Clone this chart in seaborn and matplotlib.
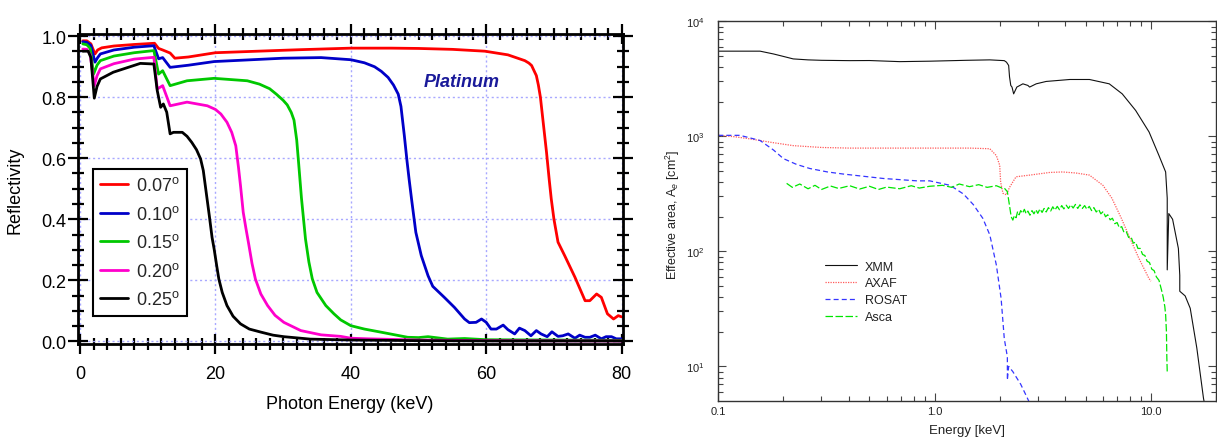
import matplotlib
matplotlib.use("Agg")
import matplotlib.pyplot as plt
import seaborn as sns
from matplotlib.ticker import (MultipleLocator, FormatStrFormatter, FixedLocator,
                               FixedFormatter, LogLocator, NullFormatter)

# ---------------- Pt reflectivity vs photon energy (grazing angles) ----------------
angles = ["0.07", "0.10", "0.15", "0.20", "0.25"]
angle_colors = ["#ff0000", "#0000c8", "#00c800", "#ff00cc", "#000000"]

e_007 = [0.4, 1.0, 1.6, 2.2, 2.6, 3.2, 5, 8, 11, 11.6, 12.2, 13.3, 14.0, 16, 20, 30,
         32.6, 40, 46, 50, 55, 59.8, 63.2, 65.7, 66.3, 66.7, 67.1, 67.4, 67.7, 68.0,
         68.4, 68.9, 69.3, 69.6, 70.0, 70.6, 71.6, 73.1, 74.6, 75.3, 76.3, 77.0, 77.9,
         78.8, 79.5, 80]
r_007 = [0.985, 0.985, 0.975, 0.942, 0.955, 0.962, 0.968, 0.973, 0.977, 0.96, 0.955,
         0.945, 0.928, 0.932, 0.946, 0.954, 0.956, 0.961, 0.961, 0.96, 0.957, 0.951,
         0.939, 0.92, 0.912, 0.904, 0.885, 0.871, 0.84, 0.80, 0.72, 0.62, 0.53, 0.467,
         0.40, 0.325, 0.28, 0.21, 0.133, 0.133, 0.155, 0.144, 0.09, 0.073, 0.084, 0.08]

e_010 = [0.4, 1.0, 1.6, 2.2, 2.6, 3.0, 5, 8, 10.9, 11.6, 12.2, 13.3, 16, 19.8, 30, 35.6,
         40, 42, 43.5, 44.5, 45.5, 46.3, 47.0, 47.4, 47.9, 48.3, 48.6, 49.0, 49.6, 50.4,
         51.4, 52.1, 53.8, 55.3, 56.8, 57.5, 58.5, 59.3, 60.0, 60.7, 61.5, 62.5, 63.2,
         64.2, 64.9, 65.7, 66.6, 67.4, 68.1, 69.0, 69.7, 70.6, 71.3, 72.1, 73.1, 73.8,
         74.6, 75.3, 76.1, 77.0, 77.7, 78.5, 79.2, 80]
r_010 = [0.982, 0.98, 0.97, 0.915, 0.93, 0.942, 0.955, 0.964, 0.969, 0.926, 0.93, 0.898,
         0.905, 0.917, 0.928, 0.93, 0.923, 0.913, 0.90, 0.885, 0.865, 0.84, 0.81, 0.77,
         0.674, 0.59, 0.532, 0.46, 0.357, 0.281, 0.215, 0.18, 0.144, 0.111, 0.073, 0.061,
         0.062, 0.073, 0.062, 0.04, 0.04, 0.053, 0.038, 0.024, 0.043, 0.035, 0.018,
         0.035, 0.024, 0.015, 0.031, 0.016, 0.018, 0.024, 0.01, 0.02, 0.013, 0.013,
         0.02, 0.008, 0.015, 0.015, 0.008, 0.008]

e_015 = [0.4, 1.0, 1.5, 2.0, 2.5, 3.0, 5, 8, 10.9, 11.6, 12.2, 13.3, 15.8, 19.8, 24.7,
         26.5, 28.0, 29.0, 30.0, 30.6, 31.2, 31.6, 32.0, 32.3, 32.7, 33.3, 33.8, 34.3,
         35.0, 36.3, 37.5, 38.5, 40, 42, 44.4, 48.4, 50, 51.4, 54.3, 56.8, 60, 70, 80]
r_015 = [0.975, 0.972, 0.96, 0.876, 0.905, 0.92, 0.935, 0.946, 0.953, 0.876, 0.887,
         0.838, 0.854, 0.862, 0.854, 0.843, 0.828, 0.81, 0.79, 0.775, 0.75, 0.725, 0.66,
         0.58, 0.47, 0.335, 0.26, 0.205, 0.16, 0.117, 0.09, 0.07, 0.051, 0.04, 0.03,
         0.013, 0.012, 0.015, 0.007, 0.009, 0.005, 0.004, 0.003]

e_020 = [0.4, 1.0, 1.5, 2.1, 2.5, 3.0, 5, 8, 10.9, 11.4, 12.2, 13.3, 15.8, 18.8, 20.0,
         20.8, 21.7, 22.4, 23.0, 23.4, 23.7, 24.1, 24.5, 24.9, 25.4, 25.9, 26.7, 27.7,
         28.8, 30.1, 32.6, 35.6, 38.5, 40, 42.5, 50, 60, 80]
r_020 = [0.958, 0.957, 0.94, 0.838, 0.87, 0.893, 0.91, 0.925, 0.931, 0.827, 0.838, 0.772,
         0.784, 0.772, 0.76, 0.745, 0.718, 0.685, 0.641, 0.57, 0.51, 0.423, 0.37, 0.32,
         0.255, 0.204, 0.155, 0.117, 0.085, 0.062, 0.035, 0.021, 0.016, 0.01, 0.008,
         0.004, 0.002, 0.001]

e_025 = [0.4, 1.2, 1.6, 2.1, 2.5, 3.0, 4.9, 8.9, 10.9, 11.4, 11.9, 12.3, 12.8, 13.3, 13.8,
         15.1, 15.8, 16.5, 17.2, 17.8, 18.2, 18.5, 18.8, 19.1, 19.5, 19.8, 20.2, 20.5,
         21.0, 21.7, 22.6, 23.7, 25.0, 26.7, 28.5, 30.1, 34, 40, 50, 60, 80]
r_025 = [0.951, 0.951, 0.93, 0.797, 0.835, 0.86, 0.882, 0.911, 0.909, 0.822, 0.767, 0.778,
         0.751, 0.68, 0.685, 0.685, 0.672, 0.652, 0.628, 0.598, 0.56, 0.51, 0.46, 0.41,
         0.34, 0.303, 0.245, 0.204, 0.16, 0.117, 0.082, 0.057, 0.04, 0.03, 0.02, 0.015,
         0.007, 0.004, 0.002, 0.001, 0.001]

refl_energy = [e_007, e_010, e_015, e_020, e_025]
refl_value = [r_007, r_010, r_015, r_020, r_025]

# ---------------- Effective area of X-ray missions ----------------
xmm_e = [0.1, 0.156, 0.18, 0.2, 0.222, 0.26, 0.3, 0.405, 0.5, 0.69, 0.95, 1.4, 1.8, 2.1,
         2.15, 2.2, 2.22, 2.25, 2.28, 2.32, 2.40, 2.56, 2.70, 2.75, 2.95, 3.28, 4.22, 5.2,
         6.42, 7.37, 8.5, 9.81, 10.9, 11.7, 11.9, 11.9, 12.1, 12.6, 13.4, 13.6, 13.6,
         14.4, 15.2, 16.3, 17.5, 18.0]
xmm_a = [5500, 5500, 5200, 4950, 4710, 4620, 4580, 4550, 4560, 4460, 4500, 4580, 4620,
         4550, 4410, 4130, 3300, 2770, 2680, 2340, 2680, 2860, 2770, 2680, 2860, 3000,
         3120, 3120, 2860, 2340, 1680, 1090, 680, 490, 290, 69, 213, 190, 106, 62, 45,
         41, 32, 14.5, 5.3, 4.0]

axaf_e = [0.1, 0.12, 0.14, 0.18, 0.222, 0.3, 0.405, 0.6, 0.95, 1.45, 1.80, 1.93, 2.0,
          2.02, 2.07, 2.15, 2.22, 2.38, 2.75, 3.4, 3.9, 4.5, 5.2, 6.0, 6.6, 7.3, 8.0,
          8.8, 9.8, 10.0]
axaf_a = [1020, 990, 950, 880, 830, 800, 790, 790, 790, 790, 780, 680, 560, 400, 320,
          310, 360, 445, 460, 485, 490, 480, 460, 375, 290, 194, 130, 87, 58, 55]

rosat_e = [0.1, 0.126, 0.156, 0.18, 0.2, 0.23, 0.265, 0.32, 0.378, 0.58, 0.83, 0.95,
           1.18, 1.36, 1.51, 1.67, 1.80, 1.93, 2.03, 2.1, 2.17, 2.17, 2.2, 2.3, 2.5,
           2.66, 2.75]
rosat_a = [1020, 1020, 920, 760, 640, 570, 525, 490, 470, 430, 410, 410, 375, 315, 255,
           194, 139, 76, 39, 17.4, 12.1, 7.6, 10, 9.0, 7.0, 5.5, 4.8]

asca_e = [0.207, 0.22, 0.238, 0.26, 0.28, 0.30, 0.33, 0.36, 0.405, 0.45, 0.5, 0.55, 0.6,
          0.69, 0.78, 0.85, 0.95, 1.09, 1.2, 1.3, 1.45, 1.6, 1.75, 1.93, 2.05, 2.1, 2.17,
          2.22, 2.26, 2.30, 2.34, 2.38, 2.42, 2.46, 2.50, 2.55, 2.60, 2.65, 2.70, 2.76,
          2.82, 2.88, 2.94, 3.00, 3.07, 3.14, 3.21, 3.28, 3.36, 3.44, 3.52, 3.60, 3.69,
          3.78, 3.87, 3.96, 4.06, 4.16, 4.26, 4.37, 4.48, 4.59, 4.70, 4.82, 4.94, 5.06,
          5.19, 5.32, 5.45, 5.59, 5.73, 5.87, 6.02, 6.17, 6.32, 6.48, 6.64, 6.81, 6.98,
          7.15, 7.33, 7.51, 7.70, 7.89, 8.09, 8.29, 8.50, 8.71, 8.93, 9.15, 9.38, 9.61,
          9.85, 10.1, 10.35, 10.6, 10.9, 11.2, 11.4, 11.6, 11.7, 11.8, 11.85, 11.9]
asca_a = [390, 360, 385, 350, 375, 345, 370, 352, 372, 348, 368, 345, 362, 350, 372, 355,
          368, 375, 360, 385, 365, 380, 360, 372, 355, 355, 330, 250, 200, 187, 205, 196,
          222, 208, 226, 214, 232, 212, 224, 206, 226, 212, 230, 214, 234, 218, 236, 220,
          240, 224, 244, 228, 246, 230, 250, 234, 252, 236, 254, 238, 256, 236, 254, 236,
          250, 232, 246, 226, 240, 220, 232, 212, 222, 200, 208, 188, 194, 174, 178, 160,
          164, 146, 148, 132, 134, 118, 120, 106, 106, 94, 92, 82, 80, 70, 68, 60, 56, 46,
          40, 33, 28, 20, 12, 9]

missions = ["XMM", "AXAF", "ROSAT", "Asca"]

# ---------------- style ----------------
sns.set_style("ticks")
plt.rcParams["font.family"] = ["Liberation Sans", "DejaVu Sans"]
plt.rcParams["mathtext.fontset"] = "custom"
plt.rcParams["mathtext.rm"] = "Liberation Sans"
plt.rcParams["mathtext.it"] = "Liberation Sans:italic"
plt.rcParams["mathtext.bf"] = "Liberation Sans:bold"

W, H = 1217, 439
fig = plt.figure(figsize=(W / 100, H / 100), dpi=100)

# ======== left panel ========
axL = fig.add_axes([77.7 / W, 1 - 345 / H, 545.3 / W, 310.5 / H])
for ang, col, ex, rv in zip(angles, angle_colors, refl_energy, refl_value):
    sns.lineplot(x=ex, y=rv, ax=axL, color=col, linewidth=2.0, sort=False,
                 estimator=None, label=ang + r"$^{\mathrm{o}}$")

axL.set_xlim(-0.35, 80.2)
axL.set_ylim(-0.009, 1.009)
axL.xaxis.set_major_locator(MultipleLocator(20))
axL.xaxis.set_minor_locator(MultipleLocator(2))
axL.yaxis.set_major_locator(MultipleLocator(0.2))
axL.yaxis.set_minor_locator(MultipleLocator(0.05))
axL.yaxis.set_major_formatter(FormatStrFormatter("%.1f"))
axL.grid(True, which="major", color="#a8a8ff", linestyle=(0, (1.5, 2)), linewidth=1.0)
axL.set_axisbelow(True)
for sp in axL.spines.values():
    sp.set_visible(True)
    sp.set_linewidth(2.0)
    sp.set_color("black")
axL.tick_params(which="both", direction="inout", top=True, right=True,
                width=1.6, color="black", labelsize=13, labelcolor="black")
axL.tick_params(which="major", length=14)
axL.tick_params(which="minor", length=8)
axL.tick_params(axis="x", which="major", pad=8)
axL.tick_params(axis="y", which="major", pad=1)
axL.set_xlabel("")
axL.set_ylabel("")

handles, labels = axL.get_legend_handles_labels()
legL = axL.legend(handles, labels, loc="upper left", bbox_to_anchor=(0.028, 0.563),
                  borderaxespad=0, fontsize=13, frameon=True, fancybox=False,
                  framealpha=1, edgecolor="black", handlelength=1.55,
                  handletextpad=0.45, labelspacing=0.58, borderpad=0.4)
legL.get_frame().set_linewidth(1.5)

axL.text(56.3, 0.85, "Platinum", fontsize=13, fontweight="bold", fontstyle="italic",
         color="#1a1a9a", ha="center", va="center")

fig.text(15 / W, 1 - 190 / H, "Reflectivity", rotation=90, ha="center", va="center",
         fontsize=13, color="black")
fig.text(350 / W, 1 - 405 / H, "Photon Energy (keV)", ha="center", va="center",
         fontsize=13, color="black")

# ======== right panel ========
axR = fig.add_axes([718.3 / W, 1 - 401.7 / H, 497.7 / W, 379.4 / H])
axR.set_xscale("log")
axR.set_yscale("log")
sns.lineplot(x=xmm_e, y=xmm_a, ax=axR, color="#111111", linewidth=0.8, sort=False,
             estimator=None, label=missions[0])
sns.lineplot(x=axaf_e, y=axaf_a, ax=axR, color="#ff5a5a", linewidth=0.9, sort=False,
             estimator=None, label=missions[1], linestyle=(0, (1, 1)))
sns.lineplot(x=rosat_e, y=rosat_a, ax=axR, color="#3535ff", linewidth=0.9, sort=False,
             estimator=None, label=missions[2], linestyle=(0, (4, 2.5)))
sns.lineplot(x=asca_e, y=asca_a, ax=axR, color="#00e600", linewidth=0.9, sort=False,
             estimator=None, label=missions[3], linestyle=(0, (6, 2)))

axR.set_xlim(0.1, 20)
axR.set_ylim(5.03, 1e4)
axR.xaxis.set_major_locator(FixedLocator([0.1, 1.0, 10.0]))
axR.xaxis.set_major_formatter(FixedFormatter(["0.1", "1.0", "10.0"]))
axR.xaxis.set_minor_locator(LogLocator(base=10, subs=range(2, 10), numticks=20))
axR.xaxis.set_minor_formatter(NullFormatter())
axR.yaxis.set_major_locator(LogLocator(base=10, numticks=10))
axR.yaxis.set_minor_locator(LogLocator(base=10, subs=range(2, 10), numticks=20))
axR.yaxis.set_minor_formatter(NullFormatter())
for sp in axR.spines.values():
    sp.set_visible(True)
    sp.set_linewidth(1.0)
    sp.set_color("#333333")
axR.tick_params(which="both", direction="in", top=True, right=True, width=0.8,
                color="#444444", labelsize=8, labelcolor="#222222")
axR.tick_params(which="major", length=6)
axR.tick_params(which="minor", length=3.5)
axR.tick_params(axis="x", which="major", pad=4)
axR.tick_params(axis="y", which="major", pad=10)
axR.set_xlabel("")
axR.set_ylabel("")

hR, lR = axR.get_legend_handles_labels()
axR.legend(hR, lR, loc="upper left", bbox_to_anchor=(0.214, 0.369), borderaxespad=0,
           borderpad=0, frameon=False, fontsize=9, handlelength=2.6,
           handletextpad=0.6, labelspacing=0.38, labelcolor="#222222")

fig.text(967 / W, 1 - 431 / H, "Energy [keV]", ha="center", va="center", fontsize=9.5,
         color="#222222")
fig.text(673 / W, 1 - 215 / H, r"Effective area, A$_e$ [cm$^2$]", rotation=90,
         ha="center", va="center", fontsize=9, color="#222222")

fig.savefig("out.png", dpi=100)
